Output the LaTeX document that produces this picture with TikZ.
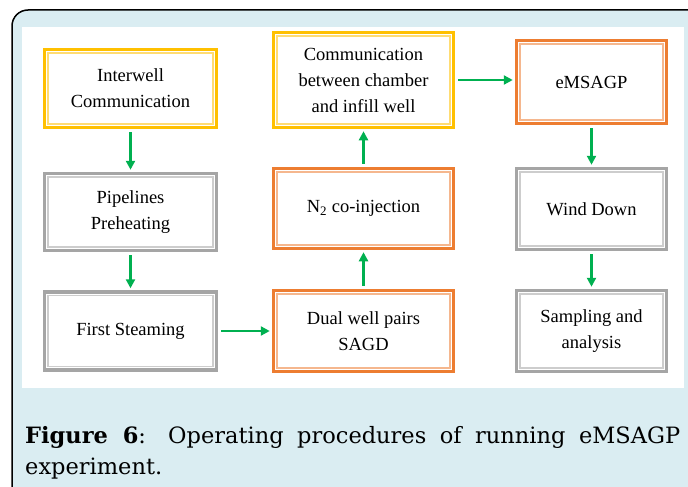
\documentclass[tikz,border=0pt]{standalone}
\usepackage{fontspec}
\setmainfont{Liberation Serif}
\newfontfamily\capfont{DejaVu Serif}
\usetikzlibrary{arrows.meta}
\hyphenpenalty=10000
\exhyphenpenalty=10000

\definecolor{panelblue}{HTML}{DAEDF2}
\definecolor{gold}{HTML}{FFC000}
\definecolor{burnt}{HTML}{ED7D31}
\definecolor{ash}{HTML}{A5A5A5}
\definecolor{flow}{HTML}{00B050}

\begin{document}
\begin{tikzpicture}[x=1pt,y=-1pt,
    stage/.style={rectangle,draw=#1,line width=3.5pt,fill=white,align=center,
                  font=\fontsize{18.5}{26}\selectfont},
    link/.style={draw=flow,line width=2.5pt,-{Triangle[length=9pt,width=9pt]},
                 shorten <=3pt,shorten >=2pt}]

  \clip (0,0) rectangle (688,487);
  \draw[line width=1.5pt,rounded corners=16pt,fill=panelblue] (12,10) rectangle (720,520);
  \fill[white] (22,27) rectangle (684,388);

  % left column
  \node[stage=gold,minimum width=172pt,minimum height=78pt] (inter) at (130.5,88.5)
       {Interwell\\Communication};
  \node[stage=ash,minimum width=172pt,minimum height=77pt]  (pipe)  at (130.5,212)
       {Pipelines\\Preheating};
  \node[stage=ash,minimum width=172pt,minimum height=78pt]  (first) at (130.5,331)
       {First Steaming};

  % middle column
  \node[stage=burnt,minimum width=180pt,minimum height=81pt] (dual)    at (363.5,331)
       {Dual well pairs\\SAGD};
  \node[stage=burnt,minimum width=180pt,minimum height=80pt] (nitro)   at (363.5,208.5)
       {N\textsubscript{2} co-injection};
  \node[stage=gold,minimum width=180pt,minimum height=95pt]  (chamber) at (363.5,80)
       {Communication\\between chamber\\and infill well};

  % right column
  \node[stage=burnt,minimum width=150pt,minimum height=83pt] (emsagp) at (591.5,82)
       {eMSAGP};
  \node[stage=ash,minimum width=150pt,minimum height=81pt]   (wind)   at (591.5,209)
       {Wind Down};
  \node[stage=ash,minimum width=150pt,minimum height=81pt]   (sample) at (591.5,331)
       {Sampling and\\analysis};

  % thin inner frames
  \foreach \n/\c in {inter/gold,pipe/ash,first/ash,dual/burnt,nitro/burnt,
                     chamber/gold,emsagp/burnt,wind/ash,sample/ash}
    \draw[draw=\c!55,line width=1.2pt]
      ([shift={(5.2pt,-5.2pt)}]\n.north west) rectangle ([shift={(-5.2pt,5.2pt)}]\n.south east);

  \draw[link] (inter) -- (pipe);
  \draw[link] (pipe) -- (first);
  \draw[link] (first) -- (dual);
  \draw[link] (dual) -- (nitro);
  \draw[link] (nitro) -- (chamber);
  \draw[link] (chamber) -- (chamber -| emsagp.west);
  \draw[link] (emsagp) -- (wind);
  \draw[link] (wind) -- (sample);

  \node[anchor=north west,text width=655pt,align=justify,inner sep=0pt,
        font=\capfont\fontsize{22.5}{31}\selectfont] (caption) at (25,426)
       {\textbf{Figure 6}: Operating procedures of running eMSAGP experiment.};
\end{tikzpicture}
\end{document}
